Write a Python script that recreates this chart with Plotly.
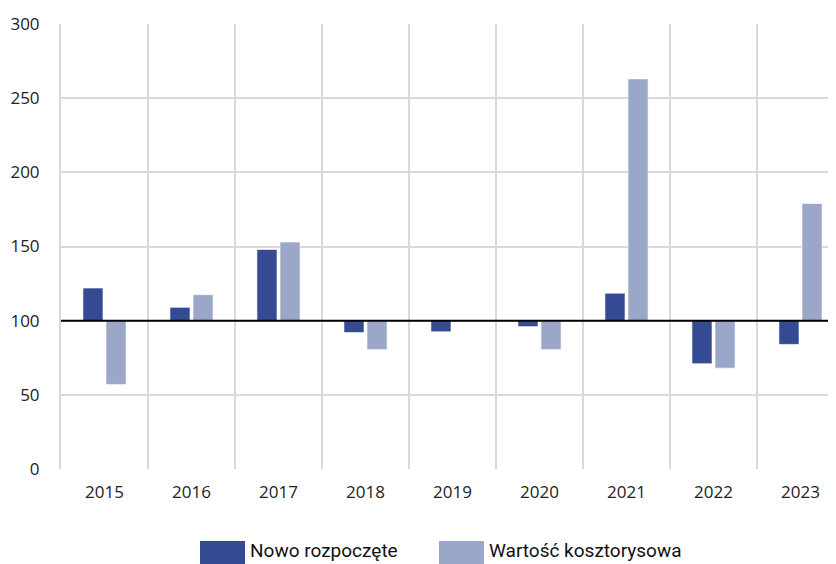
import plotly.graph_objects as go

years = ["2015", "2016", "2017", "2018", "2019", "2020", "2021", "2022", "2023"]
nowo = [122, 109, 148, 92, 92.5, 96, 118.5, 71, 84]
wartosc = [57, 117.5, 153, 80.5, 100, 80.5, 263, 68, 179]
series_names = ["Nowo rozpoczęte", "Wartość kosztorysowa"]
y_ticks = [0, 50, 100, 150, 200, 250, 300]
base_value = 100

DARK = "#344a92"
LIGHT = "#9aa7c9"
GRID = "#d9d9d9"

fig = go.Figure()
fig.add_bar(x=years, y=[v - base_value for v in nowo], base=base_value,
            name=series_names[0], marker=dict(color=DARK, line=dict(color="white", width=0.6)),
            showlegend=False)
fig.add_bar(x=years, y=[v - base_value for v in wartosc], base=base_value,
            name=series_names[1], marker=dict(color=LIGHT, line=dict(color="white", width=0.6)),
            showlegend=False)

# baseline at 100
fig.add_shape(type="line", xref="paper", yref="y", x0=0, x1=1, y0=base_value, y1=base_value,
              line=dict(color="black", width=2))

# page offset (browser body margin is 8px)
OFF = 8
L, T = 61 - OFF, 24 - OFF
H = 445.0
W = 775.0

def px_x(px):
    return (px - 61) / W

def px_y(py):
    return (469 - py) / H

legend_items = [(200, 245, DARK, series_names[0]), (439, 484, LIGHT, series_names[1])]
for x0, x1, col, label in legend_items:
    fig.add_shape(type="rect", xref="paper", yref="paper",
                  x0=px_x(x0), x1=px_x(x1), y0=px_y(541), y1=px_y(575),
                  fillcolor=col, line=dict(width=0))
    fig.add_annotation(xref="paper", yref="paper", x=px_x(x1 + 3), y=px_y(550),
                       text=label, showarrow=False, xanchor="left", yanchor="middle",
                       font=dict(family="Roboto", size=19, color="#111111"))

fig.update_layout(
    width=836 - OFF, height=564 - OFF,
    margin=dict(l=L, r=0, t=T, b=564 - OFF - T - int(H)),
    paper_bgcolor="white", plot_bgcolor="white",
    barmode="group", bargap=0.47, bargroupgap=0.13,
    font=dict(family="Open Sans", size=17, color="#222222"),
)
fig.update_xaxes(type="category", range=[-0.5, 8.408], tickson="boundaries",
                 showgrid=True, gridcolor=GRID, gridwidth=2,
                 showline=False, ticks="", zeroline=False, ticklabelstandoff=11,
                 tickfont=dict(family="Open Sans", size=17, color="#222222"))
fig.update_yaxes(range=[0, 300], tickvals=y_ticks, showgrid=True, gridcolor=GRID,
                 gridwidth=2, zeroline=False, showline=True, linecolor=GRID, linewidth=2,
                 ticks="", ticklabelstandoff=16,
                 tickfont=dict(family="Open Sans", size=17, color="#222222"))

fig.write_html("out.html")
